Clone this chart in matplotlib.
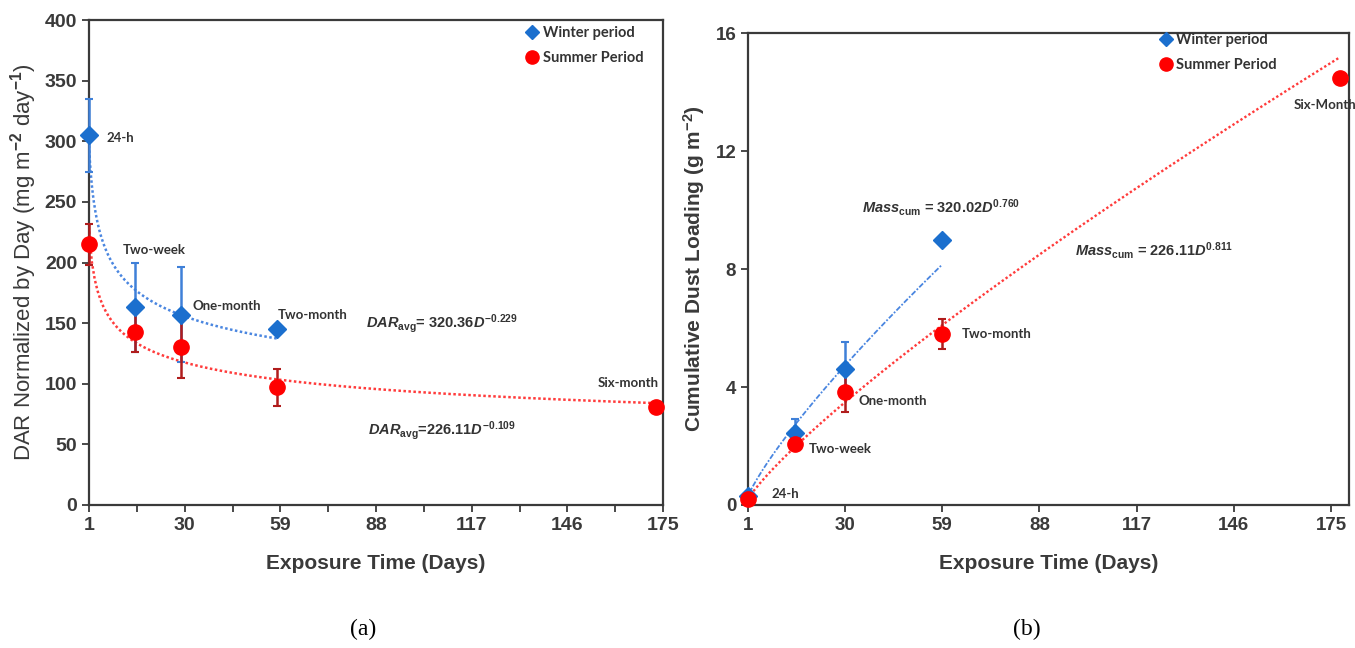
import numpy as np
import matplotlib
matplotlib.use("Agg")
import matplotlib.pyplot as plt
from matplotlib.lines import Line2D
from matplotlib.ticker import MultipleLocator, FixedLocator

plt.rcParams["font.family"] = ["Liberation Sans", "DejaVu Sans"]
plt.rcParams["mathtext.fontset"] = "custom"
plt.rcParams["mathtext.rm"] = "Liberation Sans:bold"
plt.rcParams["mathtext.it"] = "Liberation Sans:bold:italic"
plt.rcParams["mathtext.default"] = "rm"

# ---- data ----
periods = ["24-h", "Two-week", "One-month", "Two-month", "Six-month"]

# (a) DAR normalised by day
days_a = [1, 15, 29, 58, 173]
dar_winter = [305, 163, 157, 145]
dar_winter_err = [30, 37, 39, 0]
dar_summer = [215, 143, 130, 97, 80.5]
dar_summer_err = [17, 17, 25, 15, 0]

# (b) cumulative dust loading
days_b = [1, 15, 30, 59, 177.6]
mass_winter = [0.32, 2.43, 4.6, 8.98]
mass_winter_err = [0.1, 0.48, 0.93, 0]
mass_summer = [0.2, 2.07, 3.83, 5.79, 14.47]
mass_summer_err = [0.08, 0.2, 0.67, 0.5, 0]

x_ticks = [1, 30, 59, 88, 117, 146, 175]

BLUE = "#1b6fce"
BLUE_ERR = "#3f80d8"
BLUE_FIT = "#4a86e0"
RED = "#ff0000"
RED_ERR = "#b01c1c"
RED_FIT = "#ff3b3b"
GREY = "#3a3a3a"


def power_fit(x, y, n=200):
    # power-law trendline, fitted in log-log space
    x = np.asarray(x, float)
    y = np.asarray(y, float)
    b, ln_a = np.polyfit(np.log(x), np.log(y), 1)
    xs = np.linspace(x.min(), x.max(), n)
    return xs, np.exp(ln_a) * xs ** b


def style_axes(ax, size):
    for s in ax.spines.values():
        s.set_color(GREY)
        s.set_linewidth(1.6)
    ax.tick_params(which="both", direction="out", length=5, width=1.3,
                   color=GREY, labelcolor=GREY, labelsize=size)
    ax.tick_params(axis="x", pad=4)
    for lab in ax.get_xticklabels() + ax.get_yticklabels():
        lab.set_fontweight("bold")


def add_legend(ax, anchor):
    handles = [
        Line2D([], [], marker="D", color=BLUE, linestyle="none", markersize=7),
        Line2D([], [], marker="o", color=RED, linestyle="none", markersize=9.5),
    ]
    ax.legend(handles, ["Winter period", "Summer Period"], loc="upper left",
              bbox_to_anchor=anchor, frameon=False, borderpad=0,
              borderaxespad=0, handlelength=0.8, handletextpad=0.35,
              labelspacing=0.75,
              prop={"family": "Lato", "weight": "bold", "size": 10.5},
              labelcolor="#333333")


def draw_points(ax, x, y, err, marker, color, ecolor, ms):
    ax.errorbar(x, y, yerr=err, fmt="none", ecolor=ecolor, elinewidth=1.8,
                capsize=3, capthick=1.5, zorder=3, clip_on=False)
    ax.plot(x, y, marker, color=color, markersize=ms, zorder=4, clip_on=False)


ann = {"fontsize": 9.5, "fontweight": "bold", "family": "Lato",
       "color": "#333333", "va": "center"}
eq = {"fontsize": 10.5, "fontweight": "bold", "color": "#333333", "va": "center"}

fig = plt.figure(figsize=(13.55, 6.48), dpi=100)
ax1 = fig.add_axes([0.0657, 0.2207, 0.4236, 0.7483])
ax2 = fig.add_axes([0.552, 0.2207, 0.4436, 0.7283])

# ---------------- (a) ----------------
xs, ys = power_fit(days_a[:4], dar_winter)
ax1.plot(xs, ys, linestyle=(0, (1, 1)), color=BLUE_FIT, lw=1.8, zorder=2)
xs, ys = power_fit(days_a, dar_summer)
ax1.plot(xs, ys, linestyle=(0, (1, 1)), color=RED_FIT, lw=1.8, zorder=2)

draw_points(ax1, days_a[:4], dar_winter, dar_winter_err, "D", BLUE, BLUE_ERR, 9.5)
draw_points(ax1, days_a, dar_summer, dar_summer_err, "o", RED, RED_ERR, 11)

ax1.set_xlim(1, 175)
ax1.set_ylim(0, 400)
ax1.xaxis.set_major_locator(FixedLocator(x_ticks))
ax1.xaxis.set_minor_locator(MultipleLocator(14.5, offset=1))
ax1.yaxis.set_major_locator(MultipleLocator(50))
style_axes(ax1, 14)
ax1.set_xlabel("Exposure Time (Days)", fontsize=15, fontweight="bold",
               color=GREY, labelpad=14)
ax1.set_ylabel(r"DAR Normalized by Day (mg m$^{-2}$ day$^{-1}$)", fontsize=16,
               color=GREY, labelpad=4)

ax1.text(6.2, 303, periods[0], **ann)
ax1.text(11.3, 210, periods[1], **ann)
ax1.text(32.3, 164, periods[2], **ann)
ax1.text(58.1, 157, periods[3], **ann)
ax1.text(155.3, 101, periods[4], **ann)
ax1.text(85.1, 150, r"$\mathit{DAR}_{\mathrm{avg}}$= 320.36$\mathit{D}^{-0.229}$", **eq)
ax1.text(85.5, 61.5, r"$\mathit{DAR}_{\mathrm{avg}}$=226.11$\mathit{D}^{-0.109}$", **eq)
add_legend(ax1, (0.762, 0.988))

# ---------------- (b) ----------------
xs, ys = power_fit(days_b[:4], mass_winter)
ax2.plot(xs, ys, linestyle=(0, (3, 1, 1, 1)), color=BLUE_FIT, lw=1.3, zorder=2)
xs, ys = power_fit(days_b, mass_summer)
ax2.plot(xs, ys, linestyle=(0, (1, 1)), color=RED_FIT, lw=1.7, zorder=2)

draw_points(ax2, days_b[:4], mass_winter, mass_winter_err, "D", BLUE, BLUE_ERR, 9.5)
draw_points(ax2, days_b, mass_summer, mass_summer_err, "o", RED, RED_ERR, 11)

ax2.set_xlim(1, 180.4)
ax2.set_ylim(0, 16)
ax2.xaxis.set_major_locator(FixedLocator(x_ticks))
ax2.yaxis.set_major_locator(MultipleLocator(4))
style_axes(ax2, 13.5)
ax2.set_xlabel("Exposure Time (Days)", fontsize=15, fontweight="bold",
               color=GREY, labelpad=14)
ax2.set_ylabel(r"Cumulative Dust Loading (g m$^{-2}$)", fontsize=15,
               fontweight="bold", color=GREY, labelpad=6)

ax2.text(8.1, 0.36, periods[0], **ann)
ax2.text(19.2, 1.89, periods[1], **ann)
ax2.text(34.1, 3.53, periods[2], **ann)
ax2.text(64.7, 5.8, periods[3], **ann)
ax2.text(163.8, 13.56, "Six-Month", **ann)
ax2.text(35, 10.1, r"$\mathit{Mass}_{\mathrm{cum}}$ = 320.02$\mathit{D}^{0.760}$", **eq)
ax2.text(98.6, 8.64, r"$\mathit{Mass}_{\mathrm{cum}}$ = 226.11$\mathit{D}^{0.811}$", **eq)
add_legend(ax2, (0.685, 1.0))

fig.text(0.268, 0.028, "(a)", fontsize=17, family="Liberation Serif", ha="center", va="center")
fig.text(0.758, 0.028, "(b)", fontsize=17, family="Liberation Serif", ha="center", va="center")

fig.savefig("out.png", dpi=100)
